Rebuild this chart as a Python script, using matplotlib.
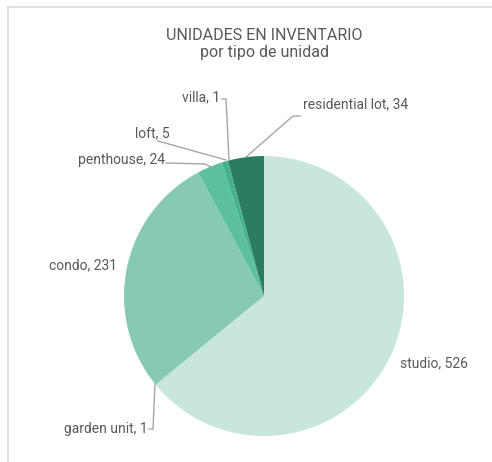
import matplotlib
matplotlib.use("Agg")
import matplotlib.pyplot as plt
from matplotlib.lines import Line2D

plt.rcParams['font.family'] = ['Roboto', 'DejaVu Sans']

categories = ['studio', 'garden unit', 'condo', 'penthouse', 'loft', 'villa', 'residential lot']
values = [526, 1, 231, 24, 5, 1, 34]
colors = ['#c9e6da', '#b0dccb', '#88cab1', '#5cc09e', '#3fb38b', '#339a78', '#2a7c63']

W, H = 492, 462
fig = plt.figure(figsize=(W / 100, H / 100), dpi=100)
ax = fig.add_axes([0, 0, 1, 1])
ax.set_xlim(0, W)
ax.set_ylim(0, H)
ax.axis('off')


def py(y):
    # pixel row -> data y
    return H - y


cx, cy, r = 264, py(296), 140
ax.pie(values, colors=colors, startangle=90, counterclock=False,
       center=(cx, cy), radius=r, frame=True,
       wedgeprops=dict(linewidth=0))
ax.set_xlim(0, W)
ax.set_ylim(0, H)
ax.set_aspect('auto')
ax.axis('off')

txt = '#595959'
lead = '#a6a6a6'
ax.text(264, py(35), 'UNIDADES EN INVENTARIO', ha='center', va='center', fontsize=11.5, color=txt)
ax.text(264, py(53), 'por tipo de unidad', ha='center', va='center', fontsize=11.5, color=txt)

# label anchor (right/left end of text) and leader lines
labels = {
    'studio': dict(xy=(400, 363), ha='left', line=None),
    'garden unit': dict(xy=(148, 429), ha='right', line=[(149, 429), (153, 429), (155, 384)]),
    'condo': dict(xy=(117, 265), ha='right', line=None),
    'penthouse': dict(xy=(165, 160), ha='right', line=[(166, 163), (205, 164), (213, 168)]),
    'loft': dict(xy=(170, 133), ha='right', line=[(158, 141), (226, 160)]),
    'villa': dict(xy=(220, 97), ha='right', line=[(222, 99), (226, 99), (229, 160)]),
    'residential lot': dict(xy=(303, 104), ha='left', line=[(300, 116), (293, 116), (246, 157)]),
}
for name, v in zip(categories, values):
    d = labels[name]
    ax.text(d['xy'][0], py(d['xy'][1]), f'{name}, {v}', ha=d['ha'], va='center',
            fontsize=10, color=txt)
    if d['line']:
        xs = [p[0] for p in d['line']]
        ys = [py(p[1]) for p in d['line']]
        ax.plot(xs, ys, color=lead, linewidth=1)

# chart border fragments
fig.add_artist(Line2D([8 / W, 1], [1 - 7 / H, 1 - 7 / H], color='#d9d9d9', linewidth=1.2))
fig.add_artist(Line2D([8 / W, 8 / W], [0, 1 - 7 / H], color='#d9d9d9', linewidth=1.2))

fig.savefig('out.png', dpi=100)
